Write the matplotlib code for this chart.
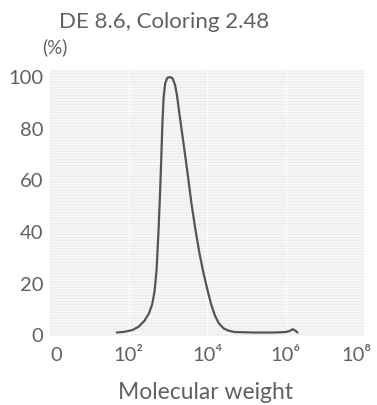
import matplotlib
matplotlib.use("Agg")
import matplotlib.pyplot as plt
from matplotlib.patches import Rectangle
from matplotlib.transforms import ScaledTranslation

# molecular weight distribution (log10 MW vs relative amount, %)
log_mw = [1.70, 1.90, 2.10, 2.25, 2.40, 2.52, 2.60, 2.66, 2.71, 2.76,
          2.80, 2.83, 2.86, 2.89, 2.93, 2.98, 3.05, 3.12, 3.18, 3.23,
          3.30, 3.40, 3.49, 3.60, 3.70, 3.80, 3.90, 4.00, 4.10, 4.20,
          4.30, 4.42, 4.55, 4.70, 5.20, 5.70, 6.00, 6.10, 6.18, 6.24, 6.30]
amount = [1.0, 1.3, 2.0, 3.2, 5.5, 8.5, 12, 17, 25, 40,
          55, 68, 82, 92, 97.5, 99.6, 100, 99.5, 97, 93,
          85, 74, 64, 51, 41, 32, 24.5, 18, 12, 7.5,
          4.5, 2.6, 1.7, 1.2, 1.0, 1.0, 1.2, 1.6, 2.3, 1.8, 1.0]

x_ticks = [0, 2, 4, 6, 8]
x_labels = ["0", "10²", "10⁴", "10⁶", "10⁸"]
y_ticks = [0, 20, 40, 60, 80, 100]

title = "DE 8.6, Coloring 2.48"
TXT = "#616161"

plt.rcParams["font.family"] = ["Lato", "DejaVu Sans"]

fig = plt.figure(figsize=(3.77, 4.05), dpi=100)
ax = fig.add_axes([0.133, 0.170, 0.833, 0.657])

# shaded background with faint line texture
ax.set_facecolor("white")
plt.rcParams["hatch.linewidth"] = 0.6
ax.add_patch(Rectangle((0, 0), 1, 1, transform=ax.transAxes,
                       facecolor="#f7f7f7", edgecolor="#e9e9e9",
                       hatch="------", linewidth=0, zorder=0))
for xv in [2, 4, 6]:
    ax.axvline(xv, color="white", lw=1.0, alpha=0.8, zorder=1)

ax.plot(log_mw, amount, color="#555555", lw=1.6, solid_capstyle="round",
        zorder=3)

ax.set_xlim(0, 8)
ax.set_ylim(-0.4, 102.7)
ax.set_xticks(x_ticks)
ax.set_xticklabels(x_labels)
ax.set_yticks(y_ticks)
ax.tick_params(length=0, labelsize=14.5, labelcolor=TXT)
ax.tick_params(axis="y", pad=5)
ax.tick_params(axis="x", pad=8)
for s in ax.spines.values():
    s.set_visible(False)

# nudge the end labels inward so they sit inside the figure
xlabs = ax.get_xticklabels()
xlabs[0].set_transform(xlabs[0].get_transform()
                       + ScaledTranslation(6 / 100, 0, fig.dpi_scale_trans))
xlabs[-1].set_transform(xlabs[-1].get_transform()
                        + ScaledTranslation(-8 / 100, 0, fig.dpi_scale_trans))

fig.text(0.435, 0.945, title, ha="center", va="center", fontsize=16,
         color=TXT)
fig.text(0.145, 0.884, "(%)", ha="center", va="center", fontsize=13.5,
         color=TXT)
fig.text(0.545, 0.03, "Molecular weight", ha="center", va="center",
         fontsize=16.5, color=TXT)

fig.savefig("out.png", dpi=100)
